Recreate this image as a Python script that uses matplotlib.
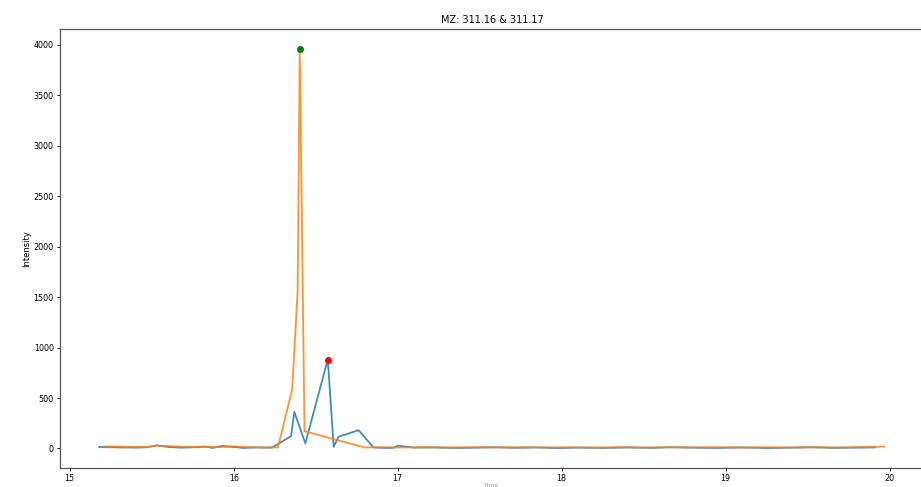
import matplotlib
matplotlib.use('Agg')
import matplotlib.pyplot as plt

# retention time / intensity
time_a = [15.18, 15.25, 15.33, 15.41, 15.47, 15.53, 15.60, 15.68, 15.76, 15.83, 15.87, 15.93,
          16.00, 16.06, 16.13, 16.19, 16.235, 16.35, 16.37, 16.437, 16.574, 16.61, 16.64,
          16.762, 16.853, 16.93, 16.98, 17.00, 17.10, 17.22, 17.35, 17.48, 17.60, 17.72,
          17.85, 17.97, 18.10, 18.25, 18.40, 18.55, 18.66, 18.80, 18.95, 19.10, 19.25,
          19.40, 19.52, 19.65, 19.80, 19.91]
int_a = [15, 12, 10, 8, 12, 30, 15, 8, 12, 18, 5, 25, 15, 5, 10, 8, 10, 122, 363, 50,
         881, 17, 116, 181, 10, 5, 8, 28, 8, 10, 5, 8, 12, 6, 10, 4, 8, 5, 10, 6, 12, 8,
         5, 10, 4, 8, 12, 6, 8, 10]

time_b = [15.21, 15.30, 15.40, 15.48, 15.53, 15.62, 15.72, 15.82, 15.90, 16.00, 16.10,
          16.20, 16.27, 16.357, 16.39, 16.403, 16.432, 16.80, 16.90, 17.00, 17.15, 17.30,
          17.45, 17.60, 17.75, 17.90, 18.05, 18.20, 18.35, 18.50, 18.65, 18.80, 18.95,
          19.10, 19.25, 19.40, 19.55, 19.70, 19.85, 19.97]
int_b = [20, 18, 15, 15, 30, 22, 15, 18, 12, 20, 12, 10, 10, 587, 1560, 3960, 171, 10,
         12, 10, 12, 10, 12, 10, 12, 10, 12, 10, 12, 10, 12, 10, 12, 10, 12, 10, 12, 10,
         15, 18]

peak_a = (16.574, 881)
peak_b = (16.403, 3960)

fig = plt.figure(figsize=(9.21, 4.87), dpi=100)
ax = fig.add_axes([0.0651, 0.039, 0.938, 0.9014])

ax.plot(time_a, int_a, color='#1f77b4', lw=1.3, alpha=0.85)
ax.plot(time_b, int_b, color='#ff7f0e', lw=1.3, alpha=0.85)
ax.plot(*peak_b, 'o', color='green', ms=4)
ax.plot(*peak_a, 'o', color='red', ms=4)

ax.set_title('MZ: 311.16 & 311.17', fontsize=7, pad=4)
ax.set_ylabel('Intensity', fontsize=6, labelpad=2)
ax.set_xlabel('Time', fontsize=4.5, labelpad=0, color='#999999')
ax.tick_params(labelsize=5.8, length=2.5, width=0.6, pad=2)
for s in ax.spines.values():
    s.set_color('#555555')
    s.set_linewidth(0.9)

plt.savefig('out.png', dpi=100)
